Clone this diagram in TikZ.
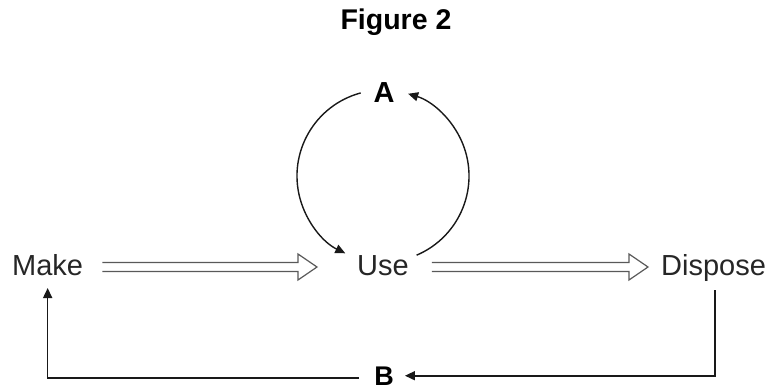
\documentclass[tikz,border=0pt]{standalone}
\usepackage{fontspec}
\setmainfont{Liberation Sans}
\usetikzlibrary{arrows.meta,calc}
\tikzset{
  lbl/.style={inner sep=0pt, font=\fontsize{29}{31}\selectfont, text=black!85},
  bold/.style={inner sep=0pt, font=\bfseries\fontsize{27}{29}\selectfont, text=black},
  ttl/.style={inner sep=0pt, font=\bfseries\fontsize{28.5}{30}\selectfont, text=black},
  cyc/.style={line width=1.4pt, draw=black!90, -{Triangle[length=10pt,width=9pt]}},
  fb/.style={line width=1.6pt, draw=black!90, -{Triangle[length=10pt,width=9pt]}},
  hollow/.style={line width=1.2pt, draw=black!65, line join=miter},
}
\newcommand{\hollowarrow}[2]{%
  \draw[hollow] let \p1=(#1), \p2=(#2) in
    (\x1,\y1+4.5) -- (\x2-19,\y1+4.5) -- (\x2-19,\y1+13) -- (\x2,\y1)
    -- (\x2-19,\y1-13) -- (\x2-19,\y1-4.5) -- (\x1,\y1-4.5);}
\begin{document}
\begin{tikzpicture}[x=1pt,y=1pt]
\useasboundingbox (0,0) rectangle (775,391);
% title
\node[ttl, anchor=base] (title) at (396,361) {Figure 2};
% main nodes
\node[lbl, anchor=base west] (make) at (12,116) {Make};
\node[lbl, anchor=base west] (use) at (357,116) {Use};
\node[lbl, anchor=base west] (dispose) at (661,116) {Dispose};
\node[bold, font=\bfseries\fontsize{29}{31}\selectfont, anchor=base] (A) at (384,288) {A};
\node[bold, anchor=base] (B) at (384,6) {B};
% hollow double arrows
\coordinate (m1) at ($(make.base east)+(19,8)$);
\coordinate (u1) at (317,124);
\coordinate (u2) at ($(use.base east)+(23,8)$);
\coordinate (d1) at (648,124);
\hollowarrow{m1}{u1}
\hollowarrow{u2}{d1}
% cycle between Use and A
\coordinate (cc) at (383,215);
\draw[cyc] ($(cc)+(105:86)$) arc[start angle=105, end angle=244, radius=86];
\draw[cyc] ($(cc)+(-67:86)$) arc[start angle=-67, end angle=73, radius=86];
% feedback loop
\coordinate (dd) at ($(dispose.south)+(1.5,-9)$);
\draw[fb] (dd) |- ([xshift=11pt]B.east);
\coordinate (bb) at ($(B.west)+(-15,-2)$);
\draw[fb] (bb) -| ([yshift=-13pt]make.base);
\end{tikzpicture}
\end{document}
